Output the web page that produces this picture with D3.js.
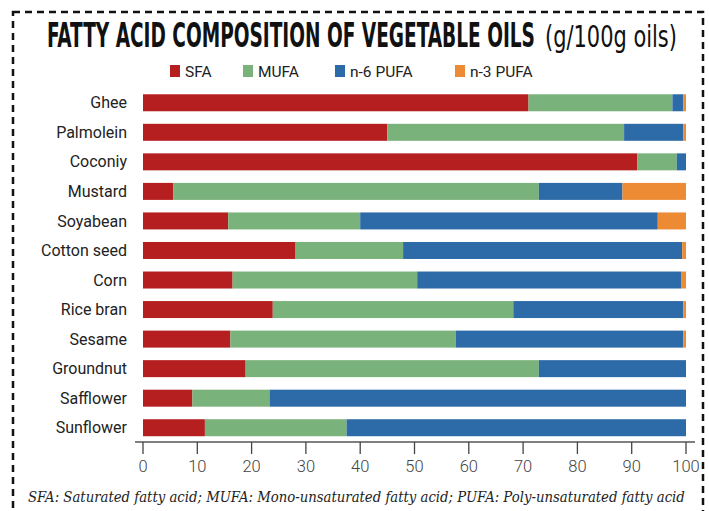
<!DOCTYPE html>
<html>
<head>
<meta charset="utf-8">
<script src="https://cdn.jsdelivr.net/npm/d3@7"></script>
<style>
    body { margin: 0; background: #fff; }
    svg { display: block; }
</style>
</head>
<body>
<div id="chart"></div>
<script>
// oils top to bottom
var oils = ["Ghee", "Palmolein", "Coconiy", "Mustard", "Soyabean", "Cotton seed",
    "Corn", "Rice bran", "Sesame", "Groundnut", "Safflower", "Sunflower"]

var seriesNames = ["SFA", "MUFA", "n-6 PUFA", "n-3 PUFA"]

// g per 100g
var sfa   = [71.0, 45.0, 91.0,  5.6, 15.7, 28.1, 16.5, 23.9, 16.1, 18.9,  9.1, 11.4]
var mufa  = [26.5, 43.6,  7.3, 67.3, 24.3, 19.8, 34.0, 44.3, 41.5, 54.0, 14.2, 26.1]
var n6    = [ 2.0, 10.9,  1.7, 15.4, 54.8, 51.4, 48.6, 31.3, 41.9, 27.1, 76.7, 62.5]
var n3    = [ 0.5,  0.5,  0.0, 11.7,  5.2,  0.7,  0.9,  0.5,  0.5,  0.0,  0.0,  0.0]

var xTicks = [0, 10, 20, 30, 40, 50, 60, 70, 80, 90, 100]

var colors = ["#b61f1f", "#79b27a", "#2c6aa8", "#ed8a34"]

var width = 709, height = 511

var svg = d3.select("#chart").append("svg")
    .attr("width", width)
    .attr("height", height)

// squeeze a text horizontally so it spans w pixels from x
function fitText(sel, x, y, w) {
    var natural = sel.node().getComputedTextLength()
    sel.attr("transform", "translate(" + x + "," + y + ") scale(" + (w / natural) + ",1)")
}

// dashed frame, runs off the bottom
svg.append("rect")
    .attr("x", 13).attr("y", 12)
    .attr("width", 690).attr("height", 530)
    .attr("fill", "none")
    .attr("stroke", "#111")
    .attr("stroke-width", 2.5)
    .attr("stroke-dasharray", "7,5")

// title
var title = svg.append("text")
    .attr("font-family", "'Liberation Sans Narrow', 'DejaVu Sans Condensed', 'DejaVu Sans', sans-serif")
    .attr("font-weight", "bold")
    .attr("font-size", 34)
    .attr("fill", "#111")
    .text("FATTY ACID COMPOSITION OF VEGETABLE OILS")
fitText(title, 47, 47, 488)

var unit = svg.append("text")
    .attr("font-family", "'Liberation Sans Narrow', 'DejaVu Sans Condensed', 'DejaVu Sans', sans-serif")
    .attr("font-size", 30)
    .attr("fill", "#111")
    .text("(g/100g oils)")
fitText(unit, 545, 47, 132)

// legend
var legendX = [170, 243, 335, 455]
var legend = svg.append("g")
seriesNames.forEach(function(name, i) {
    legend.append("rect")
        .attr("x", legendX[i]).attr("y", 65)
        .attr("width", 10).attr("height", 12)
        .attr("fill", colors[i])
    legend.append("text")
        .attr("x", legendX[i] + 15).attr("y", 77)
        .attr("font-family", "Roboto, 'Liberation Sans', sans-serif")
        .attr("font-size", 15.5)
        .attr("fill", "#222")
        .text(name)
})

var data = oils.map(function(o, i) {
    return { oil: o, "SFA": sfa[i], "MUFA": mufa[i], "n-6 PUFA": n6[i], "n-3 PUFA": n3[i] }
})

var stack = d3.stack().keys(seriesNames)(data)

var x = d3.scaleLinear().domain([0, 100]).range([143, 686])
var y = d3.scaleBand().domain(oils).range([88, 442.5]).paddingInner(0.425).paddingOuter(0.2125)

var g = svg.append("g")

g.selectAll("g.series")
    .data(stack)
    .enter()
    .append("g")
        .attr("class", "series")
        .attr("fill", function(d, i) { return colors[i] })
    .selectAll("rect")
    .data(function(d) { return d })
    .enter()
    .append("rect")
        .attr("x", function(d) { return x(d[0]) })
        .attr("width", function(d) { return Math.max(0, x(d[1]) - x(d[0])) })
        .attr("y", function(d) { return y(d.data.oil) })
        .attr("height", y.bandwidth())

// category labels
g.selectAll("text.oil")
    .data(oils)
    .enter()
    .append("text")
        .attr("class", "oil")
        .attr("x", 127)
        .attr("y", function(d) { return y(d) + y.bandwidth() / 2 })
        .attr("dy", "0.35em")
        .attr("text-anchor", "end")
        .attr("font-family", "Roboto, 'Liberation Sans', sans-serif")
        .attr("font-size", 16)
        .attr("fill", "#222")
        .text(function(d) { return d })

// x axis
var axis = svg.append("g")
    .attr("transform", "translate(0,442)")

axis.append("line")
    .attr("x1", 135).attr("x2", 695)
    .attr("stroke", "#555").attr("stroke-width", 1.3)

axis.selectAll("line.tick")
    .data(xTicks)
    .enter()
    .append("line")
        .attr("class", "tick")
        .attr("x1", function(d) { return x(d) })
        .attr("x2", function(d) { return x(d) })
        .attr("y1", 0).attr("y2", 12)
        .attr("stroke", "#444").attr("stroke-width", 1.3)

axis.selectAll("text")
    .data(xTicks)
    .enter()
    .append("text")
        .attr("x", function(d) { return x(d) })
        .attr("y", 30)
        .attr("text-anchor", "middle")
        .attr("font-family", "Roboto, 'Liberation Sans', sans-serif")
        .attr("font-weight", 300)
        .attr("font-size", 16.5)
        .attr("fill", "#444")
        .text(function(d) { return d })

// footnote
var note = svg.append("text")
    .attr("font-family", "'DejaVu Serif', 'Liberation Serif', serif")
    .attr("font-style", "italic")
    .attr("font-size", 14.5)
    .attr("fill", "#222")
    .text("SFA: Saturated fatty acid; MUFA: Mono-unsaturated fatty acid; PUFA: Poly-unsaturated fatty acid")
fitText(note, 28, 502, 658)
</script>
</body>
</html>
